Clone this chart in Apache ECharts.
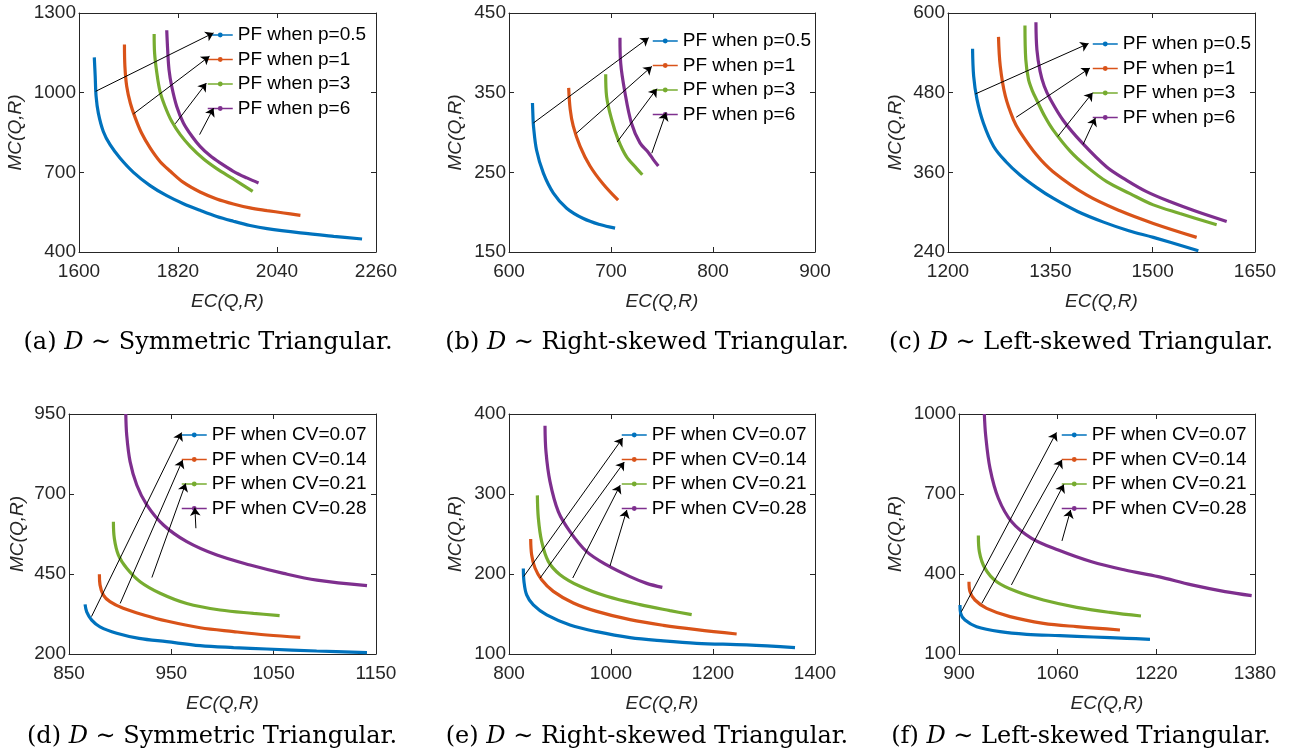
<!DOCTYPE html>
<html>
<head>
<meta charset="utf-8">
<script src="https://cdn.jsdelivr.net/npm/echarts@6/dist/echarts.min.js"></script>
<style>
  html, body { margin: 0; padding: 0; background: #fff; }
  #chart { width: 1298px; height: 756px; }
</style>
</head>
<body>
<div id="chart"></div>
<script>
// ---- legend names ----
const pNames = ["PF when p=0.5", "PF when p=1", "PF when p=3", "PF when p=6"];
const cvNames = ["PF when CV=0.07", "PF when CV=0.14", "PF when CV=0.21", "PF when CV=0.28"];

// ---- tick values ----
const aXTicks = [1600, 1820, 2040, 2260], aYTicks = [400, 700, 1000, 1300];
const bXTicks = [600, 700, 800, 900],     bYTicks = [150, 250, 350, 450];
const cXTicks = [1200, 1350, 1500, 1650], cYTicks = [240, 360, 480, 600];
const dXTicks = [850, 950, 1050, 1150],   dYTicks = [200, 450, 700, 950];
const eXTicks = [800, 1000, 1200, 1400],  eYTicks = [100, 200, 300, 400];
const fXTicks = [900, 1060, 1220, 1380],  fYTicks = [100, 400, 700, 1000];

// ---- (a) symmetric, varying p ----
const a_p05 = [[1634,1133],[1636,1062],[1638,986],[1643,923],[1654,854],[1669,804],[1691,754],[1721,700],[1758,650],[1795,612],[1832,582],[1869,557],[1906,534],[1943,516],[1980,500],[2018,488],[2092,472],[2166,459],[2229,449]];
const a_p1  = [[1701,1181],[1702,1099],[1706,1024],[1714,961],[1725,905],[1739,848],[1758,792],[1780,741],[1803,704],[1832,662],[1869,626],[1906,600],[1943,581],[1980,566],[2018,556],[2055,547],[2092,538]];
const a_p3  = [[1767,1221],[1768,1149],[1773,1074],[1780,1005],[1791,949],[1806,892],[1825,842],[1847,798],[1877,750],[1906,714],[1943,675],[1986,628]];
const a_p6  = [[1795,1235],[1797,1162],[1800,1087],[1806,1024],[1817,949],[1832,886],[1851,836],[1869,798],[1891,763],[1914,735],[1943,704],[1973,679],[1999,660]];

// ---- (b) right-skewed, varying p ----
const b_p05 = [[623,337],[623.5,320],[624,308],[627,278],[633.7,249],[643.5,224],[656.5,205],[672.9,192],[689,184.5],[704,180]];
const b_p1  = [[658.5,356],[660,329],[663,308],[669.6,283],[679.4,258],[692.5,235],[707,215]];
const b_p3  = [[694.8,373],[695.7,345],[700.7,316],[707,291],[715,270],[725,255],[730.7,247]];
const b_p6  = [[708.8,419],[709.5,387],[713.7,350],[720,312],[728.4,287],[736.6,275],[741.5,266],[746.4,258]];

// ---- (c) left-skewed, varying p ----
const c_p05 = [[1236,546],[1237.6,505],[1242.5,470],[1252,434],[1267,399],[1285,376],[1305.5,356],[1330,337],[1354,321],[1390,301],[1428,285],[1465,272],[1501,262],[1567,242]];
const c_p1  = [[1274,564],[1276.6,520],[1284,475],[1296,439],[1305.5,421],[1330,386],[1354,361],[1403,326],[1452,302],[1501,283],[1564.5,262]];
const c_p3  = [[1312.8,581],[1314,530],[1318,500],[1324,482],[1330,469],[1342,444],[1354,424],[1379,392],[1403,369],[1432.6,346],[1466.8,328],[1500.9,311],[1540,298],[1593.8,281]];
const c_p6  = [[1328.9,586],[1330.3,545],[1335,512],[1341,490],[1350,470],[1369,438],[1396,405],[1432.6,368],[1462,348],[1491,331],[1525,316],[1564.5,301],[1608.5,286]];

// ---- (d) symmetric, varying CV ----
const d_cv07 = [[865.7,355],[867.3,332],[872.2,306],[880.3,285],[896.6,265],[918.5,249],[945.5,238.5],[978.2,226],[1010.8,220],[1043.4,215.6],[1092,209.4],[1141.2,204.2]];
const d_cv14 = [[879.7,449],[880.3,416],[883.6,384],[890,363.5],[903,342.7],[923,322],[945.5,303],[978.2,282],[1010.8,270],[1043.4,259.4],[1076,252]];
const d_cv21 = [[893.4,613.5],[894.3,561],[898.3,509],[906.4,468],[919.5,426],[939,390],[965.1,358],[997.7,337.5],[1030.3,327],[1055.8,320]];
const d_cv28 = [[905.5,950],[906.4,884],[909.7,801],[916.2,728],[926,666],[942.3,603],[965.1,551],[994.5,509],[1027,478],[1059.7,452],[1092.3,431],[1141.2,413.5]];

// ---- (e) right-skewed, varying CV ----
const e_cv07 = [[828.1,207],[829.4,190.4],[834.6,173.8],[847.7,161.3],[873.9,148.8],[919.6,136.3],[971.9,127.9],[1037.3,120.4],[1102.6,116.3],[1168,113.3],[1266,111.3],[1360.8,107.9]];
const e_cv14 = [[842.5,243.8],[844.4,224.2],[851,207.5],[864,192.9],[886.9,178.3],[926.1,163.8],[971.9,153.3],[1037.3,142.9],[1102.6,135.8],[1168,130.4],[1246.4,125]];
const e_cv21 = [[855.6,298.3],[857.5,270],[864,240.8],[877.1,215.8],[900,199.2],[939.2,184.6],[991.5,172.1],[1056.9,161.7],[1115.7,154.2],[1158.2,149.2]];
const e_cv28 = [[870.6,385.4],[872.5,352.9],[880.4,315.4],[896.7,277.9],[919.6,252.9],[952.3,227.9],[991.5,211.3],[1037.3,196.7],[1070,188.3],[1100.7,183.3]];

// ---- (f) left-skewed, varying CV ----
const f_cv07 = [[901.6,284],[902.7,252.5],[909.7,227.5],[928.6,202.5],[966.5,183.8],[1009.7,173.8],[1063.8,168.8],[1117.8,163.8],[1171.9,158.8],[1209.7,155]];
const f_cv14 = [[916.2,371],[917.8,334],[925.9,302.5],[944.9,271.3],[982.7,240],[1036.8,215],[1090.8,202.5],[1161,190]];
const f_cv21 = [[931.4,544],[933,484],[942.2,421],[961.1,371],[993.5,334],[1036.8,302.5],[1090.8,275],[1144.9,256],[1195.1,242.5]];
const f_cv28 = [[941.1,1000],[943.2,921],[950.3,796],[963.8,684],[985.4,596],[1017.8,534],[1061,490],[1115.1,446],[1169.1,415],[1223.2,390],[1277.3,359],[1331.4,334],[1374.6,319]];

// ---- annotation arrows: [from, to] in data units ----
const aArrows = [[[1637,1005],[1899,1225]], [[1721,920],[1890,1137]], [[1814,883],[1883,1036]], [[1868,842],[1899,942]]];
const bArrows = [[[624,312],[737,419]], [[666,299],[740,383]], [[706,288],[745,355]], [[740,274],[754,325]]];
const cArrows = [[[1240,478],[1406,554]], [[1300,443],[1408,517]], [[1361,414],[1412,480]], [[1398,402],[1416,442]]];
const dArrows = [[[872,317],[960,892]], [[900,358],[961,806]], [[931,439],[964,733]], [[974,593],[973,657]]];
const eArrows = [[[829,197],[1023,370]], [[861,195],[1026,340]], [[925,195],[1018,311]], [[998,210],[1031,280]]];
const fArrows = [[[904,259],[1058,931]], [[937,290],[1067,828]], [[985,359],[1070,736]], [[1067,524],[1081,640]]];

const COLORS = ["#0072BD", "#D95319", "#77AC30", "#7E2F8E"];
const SANS = "'Liberation Sans', Arial, Helvetica, sans-serif";
const SERIF = "'DejaVu Serif', serif";
const INK = "#262626";

const PANELS = [
  { grid: { left: 79,  top: 13,  width: 297, height: 239 }, xr: [1600, 2260], yr: [400, 1300], xt: aXTicks, yt: aYTicks,
    names: pNames,  curves: [a_p05, a_p1, a_p3, a_p6], arrows: aArrows, lg: [207, 25], yGap: 54,
    cap: ["(a) ", "Symmetric Triangular."], cx: 208, cy: 343 },
  { grid: { left: 509, top: 13,  width: 306, height: 239 }, xr: [600, 900], yr: [150, 450], xt: bXTicks, yt: bYTicks,
    names: pNames,  curves: [b_p05, b_p1, b_p3, b_p6], arrows: bArrows, lg: [652, 31], yGap: 44,
    cap: ["(b) ", "Right-skewed Triangular."], cx: 647, cy: 343 },
  { grid: { left: 948, top: 13,  width: 307, height: 239 }, xr: [1200, 1650], yr: [240, 600], xt: cXTicks, yt: cYTicks,
    names: pNames,  curves: [c_p05, c_p1, c_p3, c_p6], arrows: cArrows, lg: [1092, 34], yGap: 43,
    cap: ["(c) ", "Left-skewed Triangular."], cx: 1081, cy: 343 },
  { grid: { left: 69,  top: 414, width: 307, height: 240 }, xr: [850, 1150], yr: [200, 950], xt: dXTicks, yt: dYTicks,
    names: cvNames, curves: [d_cv07, d_cv14, d_cv21, d_cv28], arrows: dArrows, lg: [181, 425], yGap: 42,
    cap: ["(d) ", "Symmetric Triangular."], cx: 212, cy: 737 },
  { grid: { left: 509, top: 414, width: 306, height: 240 }, xr: [800, 1400], yr: [100, 400], xt: eXTicks, yt: eYTicks,
    names: cvNames, curves: [e_cv07, e_cv14, e_cv21, e_cv28], arrows: eArrows, lg: [621, 425], yGap: 44,
    cap: ["(e) ", "Right-skewed Triangular."], cx: 647, cy: 737 },
  { grid: { left: 959, top: 414, width: 296, height: 240 }, xr: [900, 1380], yr: [100, 1000], xt: fXTicks, yt: fYTicks,
    names: cvNames, curves: [f_cv07, f_cv14, f_cv21, f_cv28], arrows: fArrows, lg: [1061, 425], yGap: 54,
    cap: ["(f) ", "Left-skewed Triangular."], cx: 1081, cy: 737 }
];

function makeAxis(kind, gi, pos, range, ticks, nameGap) {
  const withLabels = nameGap != null;
  const ax = {
    type: "value",
    gridIndex: gi,
    position: pos,
    min: range[0],
    max: range[1],
    axisLine: { show: true, onZero: false, lineStyle: { color: INK, width: 1 } },
    axisTick: { show: true, inside: true, length: 5, customValues: ticks, lineStyle: { color: INK } },
    splitLine: { show: false },
    axisLabel: withLabels
      ? { show: true, customValues: ticks, formatter: v => String(v), fontSize: 19,
          fontFamily: SANS, color: INK, margin: kind === "x" ? 10 : 3 }
      : { show: false }
  };
  if (withLabels) {
    ax.name = kind === "x" ? "EC(Q,R)" : "MC(Q,R)";
    ax.nameLocation = "middle";
    ax.nameGap = nameGap;
    ax.nameMoveOverlap = false;
    ax.nameTextStyle = { fontSize: 19, fontFamily: SANS, fontStyle: "italic", color: INK };
  }
  return ax;
}

const grid = [], xAxis = [], yAxis = [], series = [], legend = [], graphic = [];

PANELS.forEach((p, i) => {
  grid.push(Object.assign({ containLabel: false }, p.grid));
  xAxis.push(makeAxis("x", i, "bottom", p.xr, p.xt, 40));
  xAxis.push(makeAxis("x", i, "top", p.xr, p.xt, null));
  yAxis.push(makeAxis("y", i, "left", p.yr, p.yt, p.yGap));
  yAxis.push(makeAxis("y", i, "right", p.yr, p.yt, null));

  p.curves.forEach((d, j) => {
    const s = {
      type: "line",
      name: p.names[j],
      xAxisIndex: 2 * i,
      yAxisIndex: 2 * i,
      data: d,
      smooth: 0.35,
      showSymbol: false,
      symbol: "circle",
      symbolSize: 5,
      lineStyle: { color: COLORS[j], width: 3.2 },
      itemStyle: { color: COLORS[j] },
      emphasis: { disabled: true },
      silent: true,
      z: 2
    };
    // arrows ride on the last (top-most) curve so they draw over everything
    if (j === p.curves.length - 1) {
      s.markLine = {
        silent: true,
        symbol: ["none", "arrow"],
        symbolSize: 8,
        label: { show: false },
        emphasis: { disabled: true },
        lineStyle: { color: "#000", width: 1, type: "solid" },
        data: p.arrows.map(a => [{ coord: a[0] }, { coord: a[1] }])
      };
    }
    series.push(s);
  });

  legend.push({
    data: p.names,
    orient: "vertical",
    left: p.lg[0],
    top: p.lg[1],
    padding: 0,
    itemWidth: 25,
    itemHeight: 6,
    itemGap: 4.5,
    selectedMode: false,
    lineStyle: { width: 1.5 },
    textStyle: { fontSize: 19, fontFamily: SANS, color: "#000", lineHeight: 20 }
  });

  graphic.push({
    type: "text",
    x: p.cx,
    y: p.cy,
    silent: true,
    style: {
      text: p.cap[0] + "{i|D} ∼ " + p.cap[1],
      align: "center",
      verticalAlign: "middle",
      fontSize: 24,
      fontFamily: SERIF,
      fill: "#000",
      rich: { i: { fontStyle: "italic", fontSize: 24, fontFamily: SERIF, fill: "#000" } }
    }
  });
});

const chart = echarts.init(document.getElementById("chart"), null, { renderer: "canvas" });
chart.setOption({
  animation: false,
  backgroundColor: "#fff",
  grid, xAxis, yAxis, series, legend, graphic
});
</script>
</body>
</html>
